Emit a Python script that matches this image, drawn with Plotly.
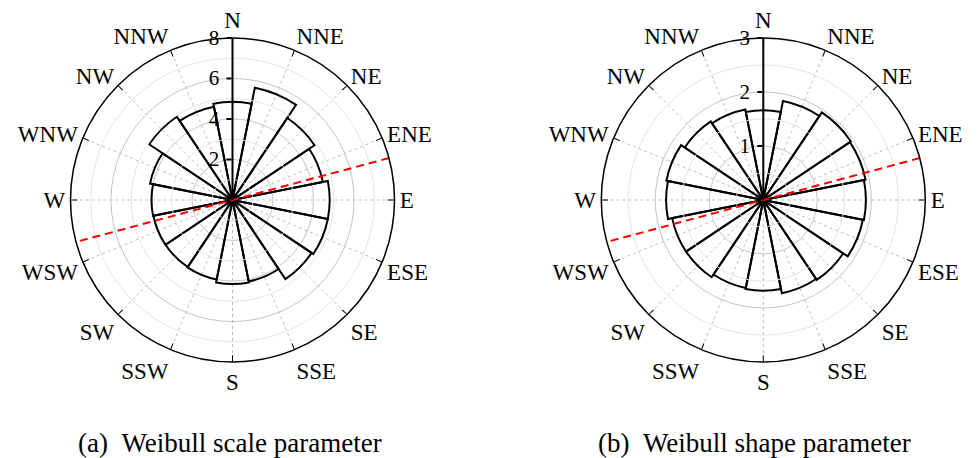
import plotly.graph_objects as go

# ---- data ----
directions = ["N", "NNE", "NE", "ENE", "E", "ESE", "SE", "SSE",
              "S", "SSW", "SW", "WSW", "W", "WNW", "NW", "NNW"]
angles = [0, 22.5, 45, 67.5, 90, 112.5, 135, 157.5,
          180, 202.5, 225, 247.5, 270, 292.5, 315, 337.5]
scale_values = [4.85, 5.65, 4.87, 4.55, 4.8, 4.8, 4.7, 4.1,
                4.15, 4.0, 3.98, 3.98, 4.0, 4.15, 4.95, 4.7]
shape_values = [1.66, 1.87, 1.95, 1.93, 1.9, 1.88, 1.78, 1.76,
                1.68, 1.66, 1.72, 1.72, 1.8, 1.83, 1.75, 1.71]
scale_ticks = [2, 4, 6, 8]
shape_ticks = [1, 2, 3]
scale_minor = [1, 3, 5, 7]
shape_minor = [0.5, 1.5, 2.5]
scale_max = 8
shape_max = 3
dominant_direction = 75.0
captions = ["(a)\u2002Weibull scale parameter", "(b)\u2002Weibull shape parameter"]

FONT = "Liberation Serif, Times New Roman, serif"
circle_theta = [i * 2 for i in range(181)]

fig = go.Figure()

panels = [
    ("polar", scale_values, scale_ticks, scale_minor, scale_max),
    ("polar2", shape_values, shape_ticks, shape_minor, shape_max),
]

for sub, vals, ticks, minor, rmax in panels:
    for m in minor:
        fig.add_trace(go.Scatterpolar(
            r=[m] * len(circle_theta), theta=circle_theta, mode="lines",
            line=dict(color="#e3e3e3", width=1), subplot=sub, hoverinfo="skip"))
    fig.add_trace(go.Barpolar(
        r=vals, theta=angles, width=[22.5] * len(angles),
        marker=dict(color="rgba(0,0,0,0)", line=dict(color="black", width=2)),
        subplot=sub))
    fig.add_trace(go.Scatterpolar(
        r=[rmax, 0, rmax],
        theta=[dominant_direction, dominant_direction, dominant_direction + 180],
        mode="lines", line=dict(color="red", width=2, dash="8px,5px"),
        subplot=sub))


def angular():
    return dict(
        rotation=90, direction="clockwise", tickmode="array",
        tickvals=angles, ticktext=directions,
        ticks="inside", ticklen=6, tickwidth=1, tickcolor="black",
        showline=True, linecolor="black", linewidth=1.5,
        showgrid=True, gridcolor="#bdbdbd", gridwidth=1, griddash="3px,3px",
        tickfont=dict(family=FONT, size=23, color="black"))


def radial(ticks, rmax):
    return dict(
        range=[0, rmax], tickmode="array", tickvals=ticks,
        angle=90, side="counterclockwise", tickangle=90,
        showline=True, linecolor="black", linewidth=2,
        ticks="outside", ticklen=5, tickcolor="black", tickwidth=1.5,
        showgrid=True, gridcolor="#c4c4c4", gridwidth=1,
        tickfont=dict(family=FONT, size=21, color="black"))


W, H = 979, 458
R = 162
cy = 200
fig.update_layout(
    width=W, height=H, margin=dict(l=0, r=0, t=0, b=0),
    paper_bgcolor="white", showlegend=False,
    polar=dict(
        domain=dict(x=[(232.5 - R) / W, (232.5 + R) / W],
                    y=[(H - cy - R) / H, (H - cy + R) / H]),
        bgcolor="white", angularaxis=angular(), radialaxis=radial(scale_ticks, scale_max)),
    polar2=dict(
        domain=dict(x=[(763.3 - R) / W, (763.3 + R) / W],
                    y=[(H - cy - R) / H, (H - cy + R) / H]),
        bgcolor="white", angularaxis=angular(), radialaxis=radial(shape_ticks, shape_max)),
    annotations=[
        dict(text=captions[0], x=230 / W, y=(H - 443) / H, xref="paper", yref="paper",
             showarrow=False, xanchor="center", yanchor="middle",
             font=dict(family=FONT, size=27, color="black")),
        dict(text=captions[1], x=754 / W, y=(H - 443) / H, xref="paper", yref="paper",
             showarrow=False, xanchor="center", yanchor="middle",
             font=dict(family=FONT, size=27, color="black")),
    ],
)

fig.write_html("out.html")
